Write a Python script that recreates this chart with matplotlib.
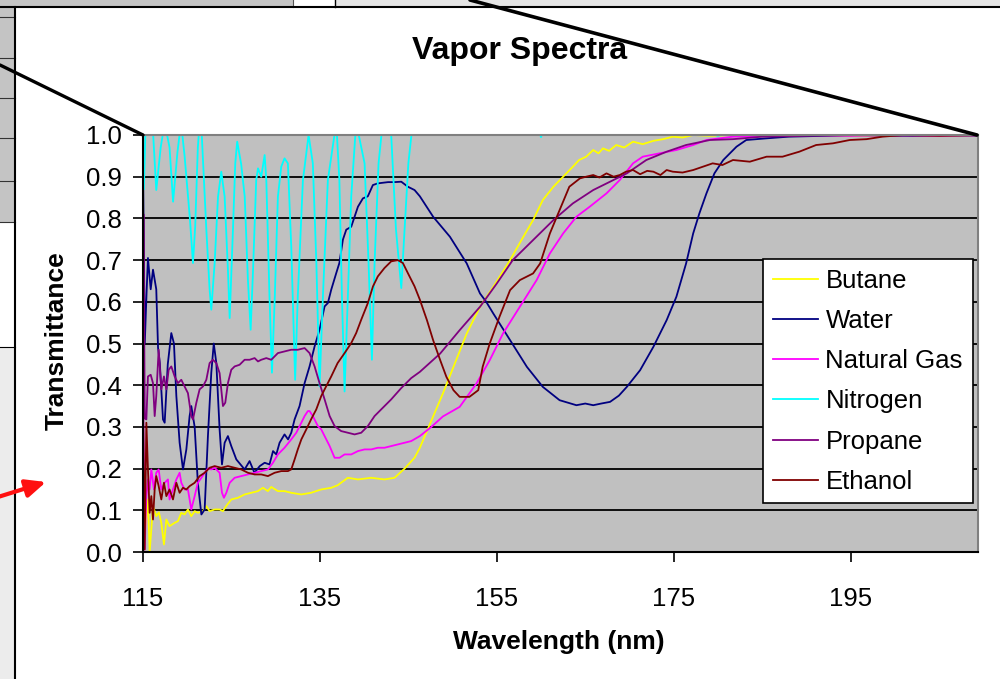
import numpy as np
import matplotlib
matplotlib.use('Agg')
import matplotlib.pyplot as plt
from matplotlib.patches import Rectangle

plt.rcParams['font.family'] = ['Liberation Sans', 'DejaVu Sans']

# wavelength (nm) / transmittance pairs for each vapor
butane_nm = [115.0, 115.56, 115.75, 115.94, 116.13, 116.5, 116.8, 117.07, 117.37, 117.64,
             118.0, 118.58, 118.95, 119.33, 119.7, 120.08, 120.46, 120.84, 121.2, 121.78,
             122.16, 122.53, 123.1, 123.66, 124.04, 124.4, 124.98, 125.73, 126.49, 127.24,
             127.99, 128.56, 129.12, 129.5, 130.25, 131.0, 131.76, 132.9, 134.0, 135.15,
             136.28, 137.0, 138.16, 139.3, 140.8, 142.3, 143.44, 144.57, 145.7, 146.3,
             147.0, 147.8, 148.9, 150.1, 151.6, 153.1, 154.6, 156.5, 158.0, 159.1,
             160.2, 161.4, 162.5, 163.6, 164.3, 165.1, 165.9, 166.5, 167.0, 167.7,
             168.5, 169.4, 170.4, 171.5, 172.7, 173.8, 174.9, 176.0, 177.2, 179.0,
             182.0, 186.0, 190.0, 195.0, 200.0, 205.0, 209.4]
butane_t = [0.0, 0.126, 0.0, 0.054, 0.11, 0.086, 0.095, 0.07, 0.018, 0.078,
            0.062, 0.07, 0.074, 0.094, 0.09, 0.102, 0.086, 0.098, 0.094, 0.098,
            0.11, 0.098, 0.102, 0.102, 0.098, 0.11, 0.126, 0.13, 0.138, 0.142,
            0.146, 0.154, 0.146, 0.156, 0.146, 0.146, 0.142, 0.138, 0.142, 0.15,
            0.154, 0.16, 0.178, 0.174, 0.178, 0.174, 0.178, 0.2, 0.226, 0.25,
            0.285, 0.325, 0.38, 0.444, 0.524, 0.588, 0.636, 0.70, 0.756, 0.796,
            0.844, 0.876, 0.90, 0.924, 0.94, 0.948, 0.964, 0.956, 0.968, 0.962,
            0.976, 0.97, 0.984, 0.978, 0.986, 0.99, 0.996, 0.994, 1.0, 0.998,
            1.0, 0.998, 1.0, 0.998, 1.0, 0.998, 1.0]

water_nm = [115.0, 115.2, 115.4, 115.56, 115.87, 116.13, 116.5, 116.7, 116.9, 117.26,
            117.45, 117.8, 118.2, 118.5, 118.77, 119.14, 119.52, 119.9, 120.27, 120.46,
            120.84, 121.2, 121.6, 121.97, 122.34, 122.72, 123.0, 123.29, 123.66, 123.93,
            124.23, 124.6, 124.98, 125.55, 126.49, 127.05, 127.6, 128.2, 128.75, 129.3,
            129.7, 130.07, 130.44, 131.0, 131.4, 131.76, 132.14, 132.7, 133.27, 133.83,
            134.4, 134.96, 135.53, 135.9, 136.28, 136.85, 137.2, 137.6, 137.98, 138.54,
            138.92, 139.3, 139.86, 140.42, 140.99, 141.55, 142.7, 143.44, 144.2, 144.94,
            145.7, 146.3, 147.8, 149.7, 151.6, 153.1, 153.8, 154.6, 156.5, 158.4,
            160.2, 162.1, 164.0, 165.0, 165.9, 166.8, 167.8, 168.8, 169.7, 171.2,
            172.7, 174.2, 175.3, 176.4, 177.2, 177.9, 178.7, 179.6, 180.6, 182.1,
            183.2, 185.5, 188.0, 192.0, 197.0, 202.0, 209.4]
water_t = [0.93, 0.50, 0.62, 0.705, 0.63, 0.677, 0.63, 0.49, 0.453, 0.318,
           0.31, 0.45, 0.525, 0.50, 0.374, 0.262, 0.198, 0.246, 0.326, 0.35,
           0.30, 0.166, 0.09, 0.102, 0.278, 0.43, 0.50, 0.453, 0.294, 0.21,
           0.262, 0.278, 0.254, 0.222, 0.198, 0.218, 0.19, 0.206, 0.214, 0.21,
           0.242, 0.234, 0.262, 0.282, 0.27, 0.286, 0.318, 0.35, 0.405, 0.445,
           0.493, 0.533, 0.589, 0.597, 0.629, 0.669, 0.693, 0.749, 0.773, 0.78,
           0.804, 0.828, 0.848, 0.853, 0.88, 0.884, 0.887, 0.887, 0.888, 0.876,
           0.868, 0.853, 0.804, 0.756, 0.692, 0.620, 0.600, 0.572, 0.508, 0.444,
           0.396, 0.364, 0.352, 0.356, 0.352, 0.356, 0.36, 0.375, 0.396, 0.436,
           0.492, 0.556, 0.612, 0.692, 0.764, 0.812, 0.86, 0.908, 0.94, 0.972,
           0.988, 0.992, 0.996, 0.998, 1.0, 0.998, 1.0]

natgas_nm = [115.0, 115.19, 115.38, 115.56, 115.75, 115.94, 116.24, 116.5, 116.77, 117.07,
             117.45, 117.82, 118.0, 118.39, 118.77, 119.14, 119.33, 119.7, 120.08, 120.46,
             120.84, 121.2, 121.6, 121.97, 122.34, 122.72, 123.1, 123.66, 123.93, 124.15,
             124.42, 124.8, 125.36, 126.1, 126.86, 127.62, 128.37, 129.12, 129.69, 130.25,
             131.0, 131.76, 132.33, 132.9, 133.27, 133.64, 133.83, 134.2, 134.77, 135.15,
             135.53, 136.1, 136.66, 137.22, 137.79, 138.54, 139.3, 140.05, 140.8, 141.55,
             142.3, 143.06, 143.81, 144.57, 145.32, 146.3, 147.6, 148.9, 150.8, 152.7,
             154.2, 155.7, 157.6, 159.5, 161.0, 162.5, 164.0, 165.5, 167.4, 168.9,
             170.4, 171.5, 173.4, 175.3, 177.2, 178.7, 181.7, 186.0, 190.0, 195.0,
             200.0, 205.0, 209.4]
natgas_t = [0.397, 0.006, 0.134, 0.174, 0.15, 0.198, 0.15, 0.19, 0.198, 0.15,
            0.166, 0.174, 0.126, 0.15, 0.174, 0.19, 0.166, 0.15, 0.15, 0.102,
            0.134, 0.166, 0.178, 0.19, 0.2, 0.198, 0.202, 0.19, 0.142, 0.13,
            0.142, 0.166, 0.178, 0.182, 0.186, 0.19, 0.194, 0.198, 0.214, 0.234,
            0.25, 0.27, 0.286, 0.31, 0.326, 0.338, 0.338, 0.326, 0.302, 0.294,
            0.278, 0.254, 0.226, 0.226, 0.234, 0.234, 0.242, 0.246, 0.246, 0.25,
            0.25, 0.254, 0.258, 0.262, 0.266, 0.278, 0.30, 0.325, 0.348, 0.404,
            0.46, 0.524, 0.588, 0.652, 0.716, 0.764, 0.804, 0.828, 0.86, 0.892,
            0.932, 0.948, 0.956, 0.964, 0.976, 0.988, 0.996, 0.998, 1.0, 0.998,
            1.0, 0.998, 1.0]

nitrogen_nm = [115.0, 115.1, 115.3, 116.1, 116.5, 117.0, 117.45, 118.0, 118.4, 118.9,
               119.3, 119.7, 120.3, 120.65, 120.9, 121.2, 121.4, 121.6, 122.16, 122.53,
               122.72, 123.1, 123.48, 123.85, 124.23, 124.6, 124.8, 125.17, 125.43, 125.65,
               126.1, 126.5, 126.86, 127.17, 127.43, 127.8, 128.0, 128.37, 128.75, 128.94,
               129.3, 129.58, 129.9, 130.25, 130.63, 131.0, 131.38, 131.76, 132.2, 132.5,
               133.08, 133.72, 134.2, 134.6, 134.96, 135.34, 135.9, 136.85, 137.2, 137.49,
               137.79, 138.16, 138.54, 139.1, 140.05, 140.5, 140.88, 141.18, 141.63, 142.1,
               143.06, 143.6, 144.2, 144.57, 145.0, 145.5, 147.0, 155.0, 159.5, 160.0,
               160.5, 170.0, 178.0, 180.0, 182.0, 190.0, 200.0, 209.4]
nitrogen_t = [1.0, 0.87, 1.03, 1.02, 0.868, 0.97, 1.03, 0.97, 0.84, 0.96,
              1.03, 0.95, 0.80, 0.693, 0.78, 0.97, 1.03, 1.02, 0.773, 0.63,
              0.581, 0.693, 0.852, 0.912, 0.852, 0.677, 0.561, 0.773, 0.932, 0.984,
              0.93, 0.852, 0.653, 0.533, 0.67, 0.892, 0.92, 0.90, 0.952, 0.892,
              0.613, 0.43, 0.613, 0.852, 0.924, 0.944, 0.932, 0.733, 0.413, 0.613,
              0.892, 1.0, 0.932, 0.693, 0.397, 0.613, 0.892, 1.03, 0.892, 0.613,
              0.385, 0.613, 0.852, 1.03, 0.932, 0.693, 0.461, 0.693, 0.932, 1.03,
              1.0, 0.773, 0.633, 0.773, 0.932, 1.03, 1.05, 1.04, 1.02, 0.995,
              1.03, 1.04, 1.01, 0.998, 1.01, 1.02, 1.01, 1.005]

propane_nm = [115.0, 115.05, 115.2, 115.38, 115.56, 115.87, 116.13, 116.32, 116.5, 116.77,
              117.07, 117.37, 117.64, 117.9, 118.2, 118.58, 118.95, 119.33, 119.7, 120.08,
              120.46, 120.65, 121.03, 121.4, 121.78, 122.16, 122.53, 122.9, 123.29, 123.66,
              124.04, 124.3, 124.6, 124.98, 125.36, 125.92, 126.49, 127.05, 127.62, 128.0,
              128.37, 128.94, 129.5, 130.25, 131.0, 131.76, 132.5, 133.27, 133.83, 134.4,
              134.96, 135.53, 136.1, 136.66, 137.4, 138.16, 138.92, 139.67, 140.42, 141.18,
              141.93, 143.06, 144.19, 145.32, 146.3, 148.6, 150.8, 153.1, 155.0, 156.8,
              159.1, 161.4, 163.6, 165.9, 167.8, 169.7, 171.9, 174.2, 176.4, 179.1,
              181.7, 185.0, 190.0, 195.0, 200.0, 205.0, 209.4]
propane_t = [0.40, 0.81, 0.32, 0.318, 0.421, 0.425, 0.405, 0.326, 0.374, 0.485,
             0.39, 0.421, 0.39, 0.437, 0.445, 0.421, 0.405, 0.413, 0.397, 0.381,
             0.326, 0.318, 0.358, 0.39, 0.397, 0.413, 0.453, 0.461, 0.453, 0.429,
             0.35, 0.358, 0.405, 0.437, 0.445, 0.449, 0.461, 0.461, 0.465, 0.457,
             0.461, 0.465, 0.461, 0.477, 0.481, 0.485, 0.485, 0.489, 0.477, 0.445,
             0.405, 0.366, 0.326, 0.302, 0.29, 0.286, 0.282, 0.286, 0.302, 0.326,
             0.342, 0.366, 0.393, 0.417, 0.432, 0.476, 0.532, 0.588, 0.644, 0.70,
             0.748, 0.796, 0.836, 0.868, 0.888, 0.908, 0.94, 0.96, 0.976, 0.988,
             0.99, 0.996, 0.998, 1.0, 0.998, 1.0, 0.998]

ethanol_nm = [115.0, 115.19, 115.38, 115.56, 115.75, 115.94, 116.13, 116.32, 116.5, 116.77,
              117.07, 117.37, 117.64, 118.0, 118.39, 118.77, 119.14, 119.52, 119.9, 120.27,
              120.84, 121.4, 121.97, 122.53, 123.1, 123.85, 124.6, 125.36, 126.1, 126.86,
              127.62, 128.37, 129.12, 129.88, 130.63, 131.38, 131.76, 132.14, 132.5, 132.9,
              133.46, 134.0, 134.59, 135.15, 135.7, 136.28, 137.0, 137.79, 138.54, 139.1,
              139.67, 140.42, 141.0, 141.55, 142.3, 143.06, 143.81, 144.38, 144.94, 145.7,
              146.3, 147.1, 147.8, 148.6, 149.3, 150.1, 150.8, 151.9, 152.9, 153.4,
              154.2, 155.3, 156.5, 157.6, 159.1, 159.9, 161.0, 162.1, 163.2, 164.4,
              165.1, 165.9, 166.6, 167.4, 168.2, 168.9, 169.6, 170.4, 171.2, 172.0,
              172.7, 173.5, 174.2, 174.9, 176.0, 177.2, 178.3, 179.4, 180.5, 181.7,
              183.6, 185.5, 187.3, 189.2, 191.1, 193.0, 194.9, 196.8, 198.6, 201.0,
              205.0, 209.4]
ethanol_t = [0.357, 0.006, 0.31, 0.198, 0.094, 0.134, 0.078, 0.15, 0.182, 0.158,
             0.126, 0.166, 0.134, 0.15, 0.126, 0.166, 0.142, 0.154, 0.15, 0.158,
             0.166, 0.182, 0.19, 0.202, 0.206, 0.202, 0.206, 0.202, 0.198, 0.19,
             0.186, 0.186, 0.182, 0.19, 0.194, 0.194, 0.198, 0.222, 0.246, 0.27,
             0.294, 0.318, 0.342, 0.374, 0.397, 0.421, 0.453, 0.477, 0.501, 0.525,
             0.557, 0.597, 0.637, 0.661, 0.681, 0.697, 0.70, 0.693, 0.669, 0.637,
             0.605, 0.556, 0.508, 0.46, 0.42, 0.388, 0.372, 0.372, 0.388, 0.444,
             0.50, 0.564, 0.628, 0.652, 0.668, 0.692, 0.764, 0.82, 0.876, 0.896,
             0.90, 0.904, 0.898, 0.908, 0.90, 0.904, 0.912, 0.916, 0.906, 0.914,
             0.912, 0.904, 0.916, 0.912, 0.91, 0.916, 0.924, 0.932, 0.928, 0.94,
             0.936, 0.948, 0.948, 0.96, 0.976, 0.98, 0.988, 0.99, 0.996, 1.0,
             0.998, 1.0]

series = [
    ('Butane', butane_nm, butane_t, '#FFFF00'),
    ('Water', water_nm, water_t, '#000080'),
    ('Natural Gas', natgas_nm, natgas_t, '#FF00FF'),
    ('Nitrogen', nitrogen_nm, nitrogen_t, '#00FFFF'),
    ('Propane', propane_nm, propane_t, '#800080'),
    ('Ethanol', ethanol_nm, ethanol_t, '#800000'),
]
x_ticks = [115, 135, 155, 175, 195]
y_ticks = [0.0, 0.1, 0.2, 0.3, 0.4, 0.5, 0.6, 0.7, 0.8, 0.9, 1.0]

W, H = 1000, 679
fig = plt.figure(figsize=(W / 100, H / 100), dpi=100)

# spreadsheet bits around the chart, drawn in pixel units
bg = fig.add_axes([0, 0, 1, 1], zorder=0)
bg.set_xlim(0, W)
bg.set_ylim(H, 0)
bg.axis('off')
bg.add_patch(Rectangle((0, 0), W, 7, color='#e4e4e4', lw=0))
bg.add_patch(Rectangle((0, 0), 293, 7, color='#c4c4c4', lw=0))
bg.add_patch(Rectangle((293, 0), 42, 7, color='white', lw=0))
bg.plot([335, 335], [0, 7], color='black', lw=1)
bg.plot([293, 293], [0, 7], color='#555555', lw=0.8)
bg.add_patch(Rectangle((0, 7), 15, 215, color='#c4c4c4', lw=0))
for yy in [17, 58, 98, 138, 181, 222]:
    bg.plot([0, 15], [yy, yy], color='#333333', lw=0.8)
bg.add_patch(Rectangle((0, 347), 15, H - 347, color='#ececec', lw=0))
bg.plot([0, 15], [347, 347], color='black', lw=0.8)
bg.plot([15, 15], [7, H], color='black', lw=1.5)
bg.plot([0, W], [7, 7], color='black', lw=1.5)

ax = fig.add_axes([143 / W, 1 - 552 / H, (978 - 143) / W, (552 - 135) / H], zorder=1)
ax.set_facecolor('#C0C0C0')
for name, xs, ys, col in series:
    ax.plot(xs, ys, color=col, lw=1.3, label=name)

ax.set_xlim(115, 209.4)
ax.set_ylim(0, 1)
ax.set_xticks(x_ticks)
ax.set_xticklabels([str(v) for v in x_ticks])
ax.set_yticks(y_ticks)
ax.set_yticklabels(['%.1f' % v for v in y_ticks])
ax.yaxis.grid(True, color='black', lw=1.3)
ax.set_axisbelow(True)
ax.tick_params(axis='both', direction='out', length=7, width=1.2, colors='black', labelsize=18.5)
ax.tick_params(axis='y', pad=8)
ax.tick_params(axis='x', pad=18)
ax.spines['left'].set_linewidth(1.5)
ax.spines['bottom'].set_linewidth(1.5)
for s in ['top', 'right']:
    ax.spines[s].set_color('#808080')
    ax.spines[s].set_linewidth(1.5)

leg = ax.legend(loc='upper left', bbox_to_anchor=(763 / W, 1 - 259 / H),
                bbox_transform=fig.transFigure, fancybox=False, framealpha=1,
                edgecolor='black', borderaxespad=0, fontsize=18.5, handlelength=1.75,
                handletextpad=0.3, labelspacing=0.63, borderpad=0.38)
leg.get_frame().set_linewidth(1.2)
leg.set_zorder(5)

fig.text(519.5 / W, 1 - 51 / H, 'Vapor Spectra', ha='center', va='center',
         fontsize=23, fontweight='bold')
fig.text(559 / W, 1 - 642 / H, 'Wavelength (nm)', ha='center', va='center',
         fontsize=19, fontweight='bold')
fig.text(57 / W, 1 - 341 / H, 'Transmittance', ha='center', va='center',
         rotation=90, fontsize=19, fontweight='bold')

# callout lines and arrow on top of everything
top = fig.add_axes([0, 0, 1, 1], zorder=4)
top.set_xlim(0, W)
top.set_ylim(H, 0)
top.axis('off')
top.plot([0, 143], [65, 135], color='black', lw=2.4, solid_capstyle='round')
top.plot([470, 977], [0, 135], color='black', lw=2.6, solid_capstyle='round')
top.annotate('', xy=(46, 482), xytext=(-2, 497),
             arrowprops=dict(arrowstyle='-|>,head_length=0.6,head_width=0.27',
                             color='#ff1010', lw=3, mutation_scale=20,
                             shrinkA=0, shrinkB=0))

fig.savefig('out.png', dpi=100)
